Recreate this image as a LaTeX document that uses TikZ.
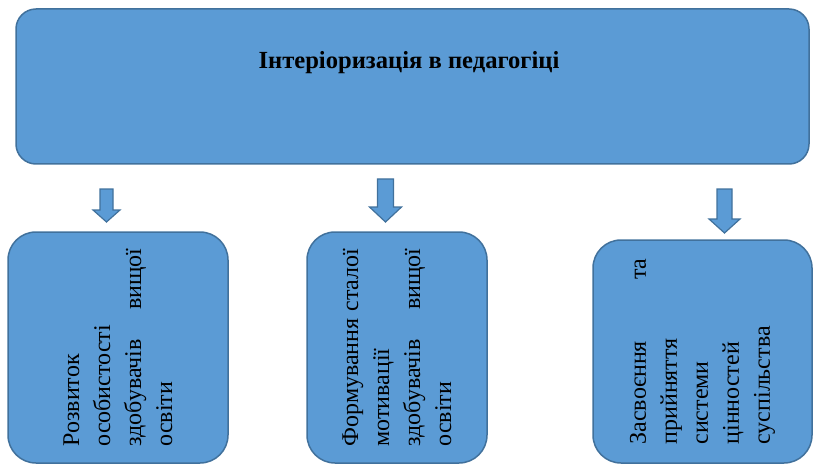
\documentclass[tikz,border=0pt]{standalone}
\usepackage{fontspec}
\setmainfont{Liberation Serif}
\newfontfamily\timesfont{Liberation Serif}
\usepackage{xcolor}
\usetikzlibrary{positioning}
\definecolor{boxfill}{HTML}{5B9BD5}
\definecolor{boxline}{HTML}{41719C}
\tikzset{
  topbox/.style={draw=boxline, fill=boxfill, line width=1.5pt, rounded corners=20pt, inner sep=0pt},
  subbox/.style={draw=boxline, fill=boxfill, line width=1.5pt, rounded corners=28pt, rotate=90, inner sep=0pt, align=left, font=\timesfont\fontsize{24}{31}\selectfont},
  headtxt/.style={font=\timesfont\bfseries\fontsize{24.6}{28}\selectfont},
  barrow/.style={draw=boxline, fill=boxfill, line width=1.2pt, line join=miter},
}

\begin{document}
\begin{tikzpicture}[x=1pt, y=-1pt]
  \useasboundingbox (0,0) rectangle (813,465);
  % top block
  \node[topbox, minimum width=793pt, minimum height=155pt] (main) at (412.5,86.5) {};
  \node[headtxt, anchor=base] (title) at (409,68.5) {Інтеріоризація в педагогіці};
  % block arrows
  \foreach \x/\yt/\yh/\yb/\s/\h in {106.5/189/210/222/6.5/13.5, 385.5/179/207/222/8/16, 724.5/189/219/233/7.5/15.5}
    \draw[barrow] (\x-\s,\yt) -- (\x+\s,\yt) -- (\x+\s,\yh) -- (\x+\h,\yh)
      -- (\x,\yb) -- (\x-\h,\yh) -- (\x-\s,\yh) -- cycle;
  % lower blocks
  \node[subbox, minimum width=231pt, minimum height=220pt, text width=198pt] (self) at (118,347.5)
    {Розвиток\\особистості\\здобувачів\hfill вищої\\освіти};
  \node[subbox, minimum width=231pt, minimum height=180pt, text width=198pt] (motiv) at (397,347.5)
    {Формування\hfill сталої\\мотивації\\здобувачів\hfill вищої\\освіти};
  \node[subbox, minimum width=223pt, minimum height=219pt, text width=186pt] (values) at (702.5,351.5)
    {Засвоєння\hfill та\\прийняття\\системи\\цінностей\\суспільства};
\end{tikzpicture}
\end{document}
